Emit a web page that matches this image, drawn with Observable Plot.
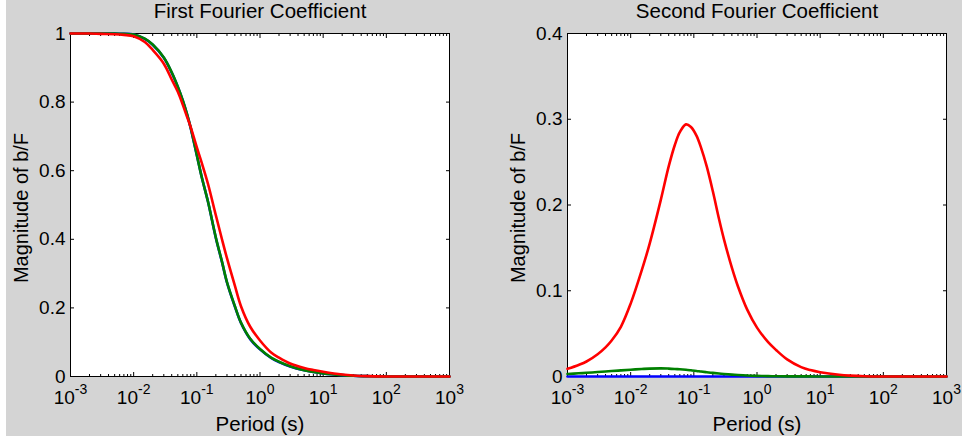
<!DOCTYPE html>
<html><head><meta charset="utf-8">
<script src="https://cdn.jsdelivr.net/npm/d3@7"></script>
<script src="https://cdn.jsdelivr.net/npm/@observablehq/plot@0.6"></script>
<style>
html,body{margin:0;padding:0;background:#fff;width:962px;height:440px;overflow:hidden;}
#bg{position:absolute;left:6px;top:0;width:956px;height:436px;background:#d4d4d4;}
#wrap{position:absolute;left:0;top:0;width:962px;height:440px;display:flex;}
#wrap svg{flex:none;}
</style></head><body><div id="bg"></div><div id="wrap"></div>
<script>
// ---- data ----
const titles = ["First Fourier Coefficient", "Second Fourier Coefficient"];
const xLabel = "Period (s)";
const yLabel = "Magnitude of b/F";
const seriesColors = ["#0000ff", "#008000", "#ff0000"]; // blue, green, red (drawn in this order)

const majorTicks = [1e-3, 1e-2, 1e-1, 1e0, 1e1, 1e2, 1e3];
const yTicksFirst = [0, 0.2, 0.4, 0.6, 0.8, 1];
const yTicksSecond = [0, 0.1, 0.2, 0.3, 0.4];

const periodFirst = [0.001, 0.002, 0.003, 0.005, 0.007, 0.01, 0.015, 0.02, 0.03, 0.04, 0.05, 0.06, 0.07, 0.08, 0.1, 0.12, 0.15, 0.2, 0.25, 0.3, 0.4, 0.5, 0.7, 1, 1.5, 2, 3, 5, 7, 10, 20, 30, 50, 100, 1000];
const firstBlue  = [1.0, 1.0, 1.0, 1.0, 0.999, 0.997, 0.984, 0.967, 0.929, 0.886, 0.844, 0.804, 0.764, 0.724, 0.645, 0.58, 0.51, 0.404, 0.334, 0.274, 0.204, 0.156, 0.109, 0.079, 0.054, 0.042, 0.029, 0.018, 0.013, 0.009, 0.004, 0.002, 0.001, 0, 0];
const firstGreen = [1.0, 1.0, 1.0, 1.0, 0.999, 0.997, 0.985, 0.968, 0.93, 0.887, 0.845, 0.805, 0.765, 0.725, 0.645, 0.58, 0.51, 0.405, 0.335, 0.275, 0.205, 0.157, 0.11, 0.08, 0.055, 0.043, 0.03, 0.018, 0.013, 0.009, 0.004, 0.002, 0.001, 0, 0];
const firstRed   = [1.0, 1.0, 0.999, 0.998, 0.996, 0.992, 0.975, 0.952, 0.912, 0.866, 0.83, 0.792, 0.757, 0.727, 0.668, 0.622, 0.562, 0.47, 0.4, 0.345, 0.265, 0.205, 0.145, 0.105, 0.07, 0.055, 0.038, 0.025, 0.019, 0.014, 0.006, 0.003, 0.001, 0, 0];

const periodSecond = [0.001, 0.0015, 0.002, 0.003, 0.004, 0.005, 0.007, 0.01, 0.015, 0.02, 0.03, 0.04, 0.05, 0.06, 0.075, 0.09, 0.11, 0.13, 0.16, 0.2, 0.25, 0.3, 0.4, 0.5, 0.7, 1, 1.5, 2, 3, 5, 7, 10, 20, 30, 50, 100, 1000];
const secondBlue  = [0, 0, 0, 0, 0, 0, 0, 0, 0, 0, 0, 0, 0, 0, 0, 0, 0, 0, 0, 0, 0, 0, 0, 0, 0, 0, 0, 0, 0, 0, 0, 0, 0, 0, 0, 0, 0];
const secondGreen = [0.003, 0.0037, 0.0043, 0.0052, 0.0059, 0.0064, 0.0071, 0.0079, 0.0087, 0.0092, 0.0095, 0.0092, 0.0088, 0.0084, 0.0078, 0.0072, 0.0065, 0.0058, 0.005, 0.0042, 0.0035, 0.003, 0.0022, 0.0017, 0.0011, 0.0007, 0.0004, 0.0003, 0.0002, 0.0001, 0.0001, 0, 0, 0, 0, 0, 0];
const secondRed   = [0.009, 0.0135, 0.0175, 0.026, 0.034, 0.042, 0.058, 0.085, 0.124, 0.155, 0.206, 0.245, 0.27, 0.285, 0.294, 0.291, 0.281, 0.267, 0.245, 0.216, 0.184, 0.16, 0.127, 0.105, 0.078, 0.057, 0.04, 0.031, 0.02, 0.011, 0.0075, 0.005, 0.002, 0.001, 0.0003, 0, 0];

// minor log ticks (axis structure)
const minorTicks = [];
for (let k = -3; k < 3; k++) for (let m = 2; m <= 9; m++) minorTicks.push(+(m * Math.pow(10, k)).toPrecision(3));

const FONT = "'Liberation Sans', Arial, Helvetica, sans-serif";

function panel({ml, mr, yDomain, yTicks, title, periods, values}) {
  const lines = values.map((vals, s) => Plot.line(periods, {
    x: d => d, y: (d, i) => vals[i], stroke: seriesColors[s], strokeWidth: 2.6, curve: "catmull-rom"
  }));
  const svg = Plot.plot({
    width: 481, height: 440,
    marginLeft: ml, marginRight: mr, marginTop: 33, marginBottom: 64,
    style: {background: "transparent", overflow: "visible", fontFamily: FONT, fontSize: "19px", color: "black"},
    x: {type: "log", domain: [1e-3, 1e3], label: null},
    y: {domain: yDomain, label: null},
    marks: [
      Plot.frame({fill: "white", stroke: "black"}),
      Plot.axisX({anchor: "bottom", ticks: minorTicks, tickSize: 2, dy: -2, fill: "none", label: null}),
      Plot.axisX({anchor: "top", ticks: minorTicks, tickSize: 2, dy: 2, fill: "none", label: null}),
      Plot.axisX({anchor: "bottom", ticks: majorTicks, tickSize: 4, dy: -4, fill: "none", label: null}),
      Plot.axisX({anchor: "top", ticks: majorTicks, tickSize: 4, dy: 4, fill: "none", label: null}),
      Plot.axisY({anchor: "left", ticks: yTicks, tickSize: 4, dx: 4, fill: "none", label: null}),
      Plot.axisY({anchor: "right", ticks: yTicks, tickSize: 4, dx: -4, fill: "none", label: null}),
      ...lines,
      Plot.axisX({anchor: "bottom", ticks: majorTicks, tickSize: 0, tickPadding: 14, label: null,
        tickFormat: d => "10^" + Math.round(Math.log10(d)), fontSize: 19}),
      Plot.axisY({anchor: "left", ticks: yTicks, tickSize: 0, tickPadding: 5, label: null,
        tickFormat: d => String(d), fontSize: 19}),
      Plot.text([title], {text: d => d, frameAnchor: "top", dy: -16, lineAnchor: "bottom", fontSize: 20.5}),
      Plot.text([xLabel], {text: d => d, frameAnchor: "bottom", dy: 54, lineAnchor: "bottom", fontSize: 20.5}),
      Plot.text([yLabel], {text: d => d, frameAnchor: "left", rotate: -90, dx: -43, dy: 3, lineAnchor: "bottom", textAnchor: "middle", fontSize: 20})
    ]
  });
  // superscript exponents in x tick labels
  const ns = "http://www.w3.org/2000/svg";
  svg.querySelectorAll('g[aria-label="x-axis tick label"] text').forEach(t => {
    const s = t.textContent;
    if (!s.includes("^")) return;
    const [b, e] = s.split("^");
    t.textContent = "";
    const t1 = document.createElementNS(ns, "tspan"); t1.textContent = b; t.appendChild(t1);
    const t2 = document.createElementNS(ns, "tspan");
    t2.setAttribute("dy", "-10.5"); t2.setAttribute("font-size", "14"); t2.textContent = e;
    t.appendChild(t2);
  });
  return svg;
}

const wrap = document.getElementById("wrap");
wrap.appendChild(panel({ml: 70, mr: 32, yDomain: [0, 1], yTicks: yTicksFirst, title: titles[0],
  periods: periodFirst, values: [firstBlue, firstGreen, firstRed]}));
wrap.appendChild(panel({ml: 86, mr: 16, yDomain: [0, 0.4], yTicks: yTicksSecond, title: titles[1],
  periods: periodSecond, values: [secondBlue, secondGreen, secondRed]}));
</script></body></html>
